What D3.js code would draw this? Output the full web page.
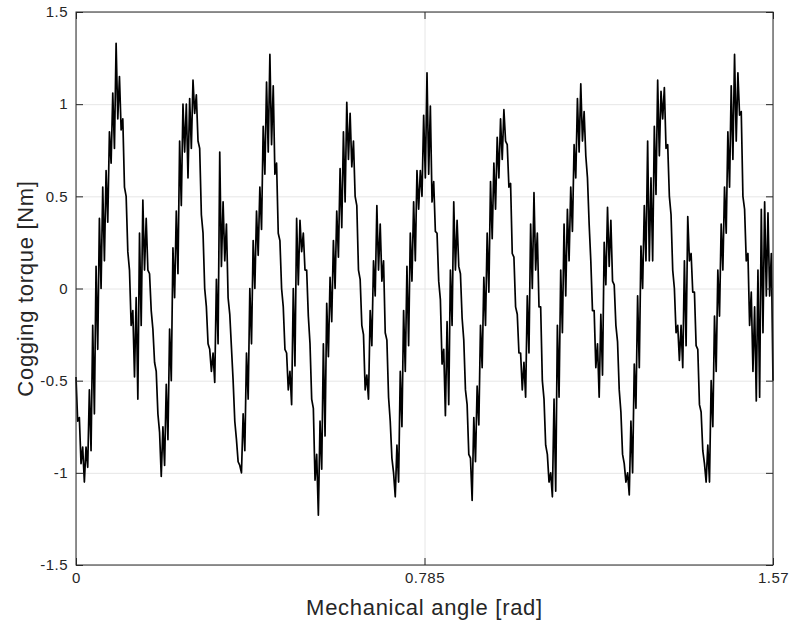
<!DOCTYPE html>
<html>
<head>
<meta charset="utf-8">
<script src="https://cdn.jsdelivr.net/npm/d3@7"></script>
<style>
  body { margin: 0; background: #fff; }
  text { font-family: "Liberation Sans", Arial, Helvetica, sans-serif; }
</style>
</head>
<body>
<svg></svg>
<script>
const ANGLE_MAX = 1.57;
const X_TICKS = [0, 0.785, 1.57];
const X_TICK_LABELS = ['0', '0.785', '1.57'];
const Y_TICKS = [-1.5, -1, -0.5, 0, 0.5, 1, 1.5];
const Y_TICK_LABELS = ['-1.5', '-1', '-0.5', '0', '0.5', '1', '1.5'];

const TORQUE = [
  -0.48,-0.72, -0.7,-0.95, -0.86,-1.05, -0.86,-0.97, -0.55,-0.88, -0.2,-0.68, 0.12,-0.33, 0.38,0.0,
  0.55,0.15, 0.64,0.36, 0.85,0.68, 1.06,0.76, 1.33,0.92, 1.15,0.86, 0.92,0.55, 0.5,0.2,
  0.1,-0.2, -0.12,-0.48, -0.05,-0.6, 0.3,-0.2, 0.48,0.1, 0.38,0.1, 0.08,-0.12, -0.22,-0.4,
  -0.45,-0.68, -0.78,-1.02, -0.75,-0.96, -0.52,-0.82, -0.22,-0.5, 0.22,-0.05, 0.42,0.08, 0.8,0.45,
  1.0,0.74,
  1.0,0.6, 1.03,0.76, 1.13,0.95, 1.05,0.8, 0.76,0.4, 0.3,0.0, -0.1,-0.3, -0.33,-0.45,
  -0.35,-0.51, 0.05,-0.3, 0.74,0.12, 0.47,0.15, 0.35,-0.05, -0.14,-0.32, -0.5,-0.72, -0.82,-0.94,
  -0.96,-1.0, -0.68,-0.88, -0.35,-0.6, 0.0,-0.3, 0.26,0.0, 0.42,0.18, 0.55,0.32, 0.88,0.62,
  1.12,0.74, 1.27,0.78, 1.1,0.62, 0.68,0.3, 0.26,0.0, -0.1,-0.33, -0.35,-0.55, -0.45,-0.63,
  0.0,-0.42, 0.38,0.02, 0.37,0.2,
  0.3,0.1, 0.1,-0.15, -0.3,-0.6, -0.65,-1.04, -0.9,-1.23, -0.72,-0.98, -0.3,-0.8, -0.08,-0.37,
  0.06,-0.18, 0.26,0.0, 0.42,0.17, 0.65,0.33, 0.85,0.47, 1.01,0.7, 0.95,0.66, 0.8,0.5,
  0.45,0.1, 0.05,-0.2, -0.25,-0.55, -0.47,-0.6, -0.12,-0.31, 0.15,-0.04, 0.45,0.1, 0.35,0.04,
  0.15,-0.24, -0.28,-0.59, -0.72,-0.92, -1.0,-1.13, -0.85,-1.05, -0.45,-0.75, -0.12,-0.45, 0.12,-0.31,
  0.3,0.04, 0.47,0.15, 0.64,0.43,
  0.64,0.5, 0.94,0.6, 1.17,0.62, 0.99,0.47, 0.58,0.31, 0.3,0.04, -0.06,-0.41, -0.33,-0.69,
  -0.18,-0.63, 0.1,-0.2, 0.47,0.1, 0.37,0.12, 0.08,-0.16, -0.28,-0.55, -0.63,-0.9, -0.92,-1.15,
  -0.7,-0.94, -0.53,-0.74, -0.2,-0.43, 0.06,-0.2, 0.3,-0.02, 0.58,0.27, 0.68,0.43, 0.82,0.6,
  0.92,0.7, 0.97,0.8, 0.78,0.55, 0.57,0.19, 0.17,-0.1, -0.14,-0.35, -0.35,-0.55, -0.4,-0.59,
  -0.04,-0.35, 0.35,0.0, 0.52,0.1,
  0.3,-0.1, -0.1,-0.5, -0.6,-0.85, -0.9,-1.05, -1.0,-1.13, -0.6,-1.1, -0.2,-0.59, 0.1,-0.24,
  0.35,-0.04, 0.43,0.15, 0.55,0.31, 0.78,0.6, 1.03,0.74, 1.11,0.8, 0.96,0.72, 0.6,0.35,
  0.15,-0.12, -0.12,-0.43, -0.3,-0.59, -0.14,-0.47, 0.25,0.02, 0.44,0.12, 0.37,0.04, 0.02,-0.2,
  -0.29,-0.55, -0.67,-0.9, -0.95,-1.05, -1.0,-1.12, -0.72,-1.0, -0.41,-0.65, -0.04,-0.43, 0.23,0.0,
  0.45,0.15, 0.8,0.15,
  0.6,0.15, 0.88,0.51, 1.13,0.72, 1.07,0.92, 1.09,0.76, 0.78,0.5, 0.4,0.1, 0.0,-0.24,
  -0.2,-0.39, -0.2,-0.43, 0.15,-0.31, 0.39,0.15, 0.19,-0.02, -0.02,-0.31, -0.33,-0.63, -0.67,-0.88,
  -0.95,-1.05, -0.85,-1.05, -0.5,-0.75, -0.15,-0.45, 0.1,-0.15, 0.35,0.1, 0.55,0.3, 0.85,0.55,
  1.1,0.7, 1.27,0.8, 1.17,0.94, 0.96,0.5, 0.43,0.15, 0.19,-0.2, -0.02,-0.45, -0.1,-0.61,
  0.1,-0.59, 0.43,-0.24, 0.47,-0.04, 0.41,-0.04, 0.19,-0.5
];

const MARGIN = { top: 12, right: 17, bottom: 63, left: 76 };
const WIDTH = 790, HEIGHT = 628;
const W = WIDTH - MARGIN.left - MARGIN.right;
const H = HEIGHT - MARGIN.top - MARGIN.bottom;
const TICK = 7;

const step = ANGLE_MAX / (TORQUE.length - 1);
const data = TORQUE.map((v, i) => ({ angle: i * step, torque: v }));

const x = d3.scaleLinear().domain([0, ANGLE_MAX]).range([0, W]);
const y = d3.scaleLinear().domain([-1.5, 1.5]).range([H, 0]);

const svg = d3.select('svg').attr('width', WIDTH).attr('height', HEIGHT);
const g = svg.append('g').attr('transform', `translate(${MARGIN.left},${MARGIN.top})`);

// grid
g.append('g')
  .call(d3.axisLeft(y).tickValues(Y_TICKS).tickSize(-W).tickFormat(''))
  .call(a => a.select('.domain').remove())
  .call(a => a.selectAll('line').attr('stroke', '#e6e6e6'));
g.append('g')
  .attr('transform', `translate(0,${H})`)
  .call(d3.axisBottom(x).tickValues(X_TICKS).tickSize(-H).tickFormat(''))
  .call(a => a.select('.domain').remove())
  .call(a => a.selectAll('line').attr('stroke', '#e6e6e6'));

// torque line
g.append('path')
  .datum(data)
  .attr('fill', 'none')
  .attr('stroke', '#000')
  .attr('stroke-width', 1.7)
  .attr('stroke-linejoin', 'round')
  .attr('d', d3.line().x(d => x(d.angle)).y(d => y(d.torque)));

// axes with inward ticks
const styleAxis = a => {
  a.select('.domain').remove();
  a.selectAll('line').attr('stroke', '#262626');
  a.selectAll('text').attr('fill', '#262626')
    .style('font-size', '15px').style('letter-spacing', '0.5px');
};
g.append('g')
  .call(d3.axisLeft(y).tickValues(Y_TICKS).tickSize(-TICK).tickPadding(8)
    .tickFormat((d, i) => Y_TICK_LABELS[i]))
  .call(styleAxis);
g.append('g')
  .attr('transform', `translate(0,${H})`)
  .call(d3.axisBottom(x).tickValues(X_TICKS).tickSize(-TICK).tickPadding(7)
    .tickFormat((d, i) => X_TICK_LABELS[i]))
  .call(styleAxis);
g.append('g')
  .attr('transform', `translate(${W},0)`)
  .call(d3.axisRight(y).tickValues(Y_TICKS).tickSize(-TICK).tickFormat(''))
  .call(styleAxis);
g.append('g')
  .call(d3.axisTop(x).tickValues(X_TICKS).tickSize(-TICK).tickFormat(''))
  .call(styleAxis);

g.append('rect')
  .attr('width', W).attr('height', H)
  .attr('fill', 'none')
  .attr('stroke', '#262626')
  .attr('stroke-width', 1);

// axis titles
svg.append('text')
  .attr('x', MARGIN.left + W / 2).attr('y', 615)
  .attr('text-anchor', 'middle')
  .attr('fill', '#262626')
  .style('font-size', '22px')
  .style('letter-spacing', '0.7px')
  .text('Mechanical angle [rad]');
svg.append('text')
  .attr('transform', `translate(33,${MARGIN.top + H / 2}) rotate(-90)`)
  .attr('text-anchor', 'middle')
  .attr('fill', '#262626')
  .style('font-size', '22px')
  .style('letter-spacing', '0.7px')
  .text('Cogging torque [Nm]');
</script>
</body>
</html>
